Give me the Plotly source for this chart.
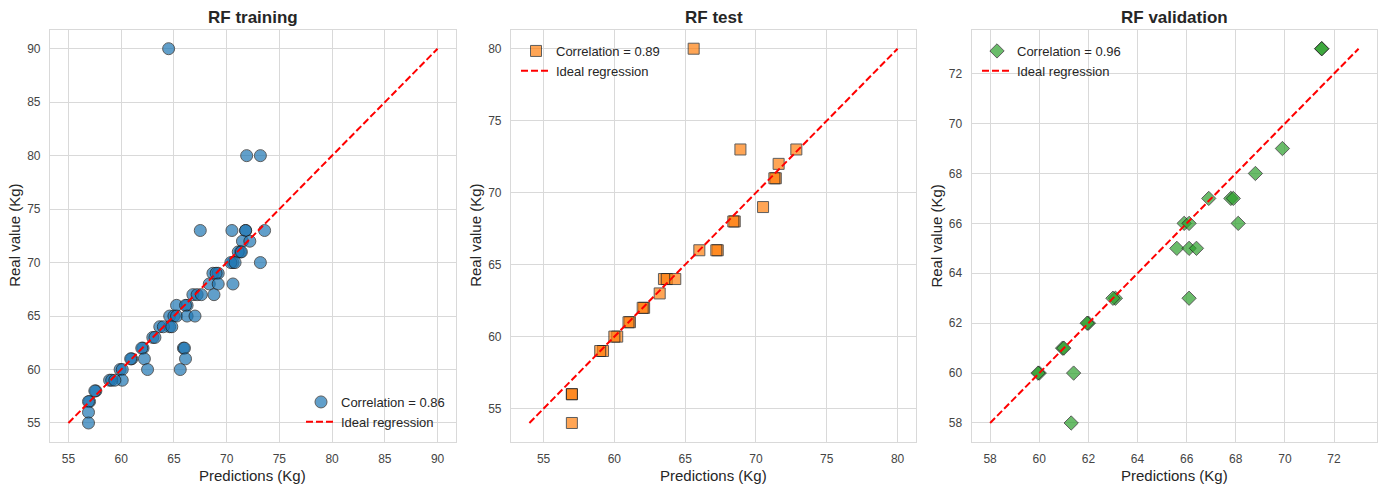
import plotly.graph_objects as go

# ---- data: predicted vs. real weight (Kg) ----
train_pred = [64.5, 71.9, 73.2, 67.5, 70.5, 71.8, 71.8, 73.6, 71.5, 72.2,
              71.3, 71.1, 71.4, 70.6, 70.4, 70.8, 73.2, 68.7, 69.2, 69.0,
              68.35, 69.2, 70.6, 66.8, 67.2, 67.6, 68.8, 65.25, 66.25, 66.1,
              64.6, 65.0, 65.25, 66.25, 67.0, 63.66, 64.6, 64.0, 64.8, 63.0,
              63.2, 62.07, 61.95, 62.2, 61.0, 60.9, 62.5, 59.9, 60.1, 60.1,
              58.9, 59.1, 59.4, 57.6, 57.5, 57.0, 56.9, 56.9, 56.9, 65.9,
              66.0, 66.1, 65.6]
train_real = [90, 80, 80, 73, 73, 73, 73, 73, 72, 72,
              71, 71, 71, 70, 70, 70, 70, 69, 69, 69,
              68, 68, 68, 67, 67, 67, 67, 66, 66, 66,
              65, 65, 65, 65, 65, 64, 64, 64, 64, 63,
              63, 62, 62, 61, 61, 61, 60, 60, 60, 59,
              59, 59, 59, 58, 58, 57, 57, 56, 55, 62,
              62, 61, 60]

test_pred = [65.6, 68.9, 72.85, 71.6, 71.4, 71.3, 70.5, 68.5, 68.4, 66.0,
             67.3, 67.2, 63.5, 63.7, 64.3, 63.2, 62.1, 62.0, 61.1, 61.0,
             60.2, 60.0, 59.2, 59.0, 57.0, 57.0, 57.0]
test_real = [80, 73, 73, 72, 71, 71, 69, 68, 68, 66,
             66, 66, 64, 64, 64, 63, 62, 62, 61, 61,
             60, 60, 59, 59, 56, 56, 54]

val_pred = [71.5, 71.5, 69.9, 68.8, 66.9, 67.8, 67.9, 68.1, 65.9, 66.1,
            65.6, 66.1, 66.4, 66.1, 63.1, 63.0, 62.0, 61.95, 60.95, 61.0,
            60.0, 59.95, 61.4, 61.3]
val_real = [73, 73, 69, 68, 67, 67, 67, 66, 66, 66,
            65, 65, 65, 63, 63, 63, 62, 62, 61, 61,
            60, 60, 60, 58]

correlations = [0.86, 0.89, 0.96]
titles = ["RF training", "RF test", "RF validation"]
ideal_lines = [(55, 90), (54, 80), (58, 73)]
x_ticks = [list(range(55, 91, 5)), list(range(55, 81, 5)), list(range(58, 73, 2))]
y_ticks = [list(range(55, 91, 5)), list(range(55, 81, 5)), list(range(58, 73, 2))]

# ---- layout geometry ----
W, H = 1380, 484
px_domains = [(50, 456), (511, 916), (971.7, 1377)]
top_px, bottom_px = 30, 441.7
y_domain = [1 - bottom_px / H, 1 - top_px / H]

FONT = "Liberation Sans, Arial, sans-serif"
GRID = "#d9d9d9"
TEXT = "#262626"

series = [
    (train_pred, train_real, "circle", "#1f77b4", 12),
    (test_pred, test_real, "square", "#ff7f0e", 11),
    (val_pred, val_real, "diamond", "#2ca02c", 11),
]

fig = go.Figure()
annotations = []

for i, ((xs, ys, sym, col, size), corr, (lo, hi)) in enumerate(
        zip(series, correlations, ideal_lines)):
    n = "" if i == 0 else str(i + 1)
    legend_name = "legend" if i == 0 else f"legend{i + 1}"
    fig.add_trace(go.Scatter(
        x=xs, y=ys, mode="markers",
        name=f"Correlation = {corr:.2f}",
        marker=dict(symbol=sym, size=size, color=col, opacity=0.7,
                    line=dict(color="#1a1a1a", width=1)),
        xaxis=f"x{n}", yaxis=f"y{n}", legend=legend_name,
    ))
    fig.add_trace(go.Scatter(
        x=[lo, hi], y=[lo, hi], mode="lines", name="Ideal regression",
        line=dict(color="red", width=2, dash="7px,3px"),
        xaxis=f"x{n}", yaxis=f"y{n}", legend=legend_name,
    ))

    pad = 0.05 * (hi - lo)
    rng = [lo - pad, hi + pad]
    x0, x1 = px_domains[i]
    dom = [x0 / W, x1 / W]
    axis_common = dict(
        range=rng, showgrid=True, gridcolor=GRID, gridwidth=1,
        showline=True, linecolor=GRID, linewidth=1.2, mirror=True,
        zeroline=False, ticks="", tickfont=dict(family=FONT, size=12, color="#444"),
    )
    fig.update_layout(**{
        f"xaxis{n}": dict(domain=dom, anchor=f"y{n}", tickvals=x_ticks[i],
                          ticklabelstandoff=6, **axis_common),
        f"yaxis{n}": dict(domain=y_domain, anchor=f"x{n}", tickvals=y_ticks[i],
                          ticklabelstandoff=6, **axis_common),
    })

    cx = (x0 + x1) / 2 / W
    annotations.append(dict(text=f"<b>{titles[i]}</b>", x=cx, y=1 - 17 / H,
                            xref="paper", yref="paper", showarrow=False,
                            xanchor="center", yanchor="middle",
                            font=dict(family=FONT, size=17, color=TEXT)))
    annotations.append(dict(text="Predictions (Kg)", x=cx, y=1 - 475 / H,
                            xref="paper", yref="paper", showarrow=False,
                            xanchor="center", yanchor="middle",
                            font=dict(family=FONT, size=15, color=TEXT)))
    annotations.append(dict(text="Real value (Kg)", x=(x0 - 35) / W, y=sum(y_domain) / 2,
                            xref="paper", yref="paper", showarrow=False, textangle=-90,
                            xanchor="center", yanchor="middle",
                            font=dict(family=FONT, size=15, color=TEXT)))

legend_style = dict(bgcolor="rgba(0,0,0,0)", borderwidth=0,
                    font=dict(family=FONT, size=13, color=TEXT),
                    tracegroupgap=0, itemwidth=30)

fig.update_layout(
    width=W, height=H,
    margin=dict(l=0, r=0, t=0, b=0),
    paper_bgcolor="white", plot_bgcolor="white",
    showlegend=True,
    legend=dict(x=450 / W, y=1 - 437 / H, xanchor="right", yanchor="bottom", **legend_style),
    legend2=dict(x=516 / W, y=1 - 36 / H, xanchor="left", yanchor="top", **legend_style),
    legend3=dict(x=977 / W, y=1 - 36 / H, xanchor="left", yanchor="top", **legend_style),
    annotations=annotations,
    font=dict(family=FONT),
)

fig.write_html("out.html")
